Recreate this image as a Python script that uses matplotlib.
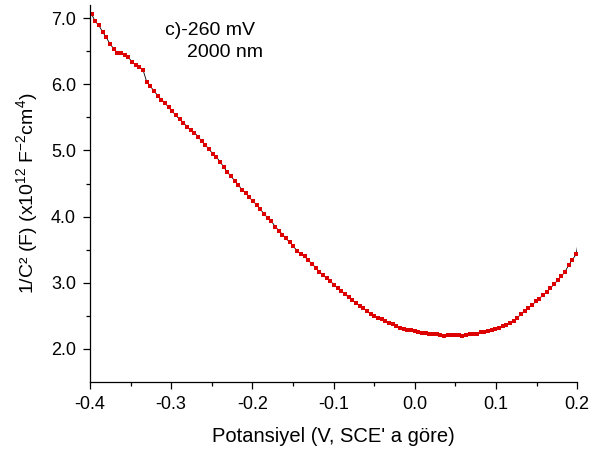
import numpy as np
import matplotlib
matplotlib.use('Agg')
import matplotlib.pyplot as plt

plt.rcParams['font.family'] = ['Liberation Sans', 'DejaVu Sans']
plt.rcParams['mathtext.fontset'] = 'custom'
plt.rcParams['mathtext.rm'] = 'Liberation Sans'
plt.rcParams['mathtext.it'] = 'Liberation Sans'

# 1/C^2 values (x10^12 F^-2 cm^4)
inv_c2 = [
    7.06, 6.95, 6.89, 6.79, 6.71, 6.61, 6.54, 6.48, 6.47, 6.44,
    6.41, 6.34, 6.29, 6.26, 6.22, 6.04, 5.97, 5.90, 5.83, 5.77,
    5.72, 5.65, 5.59, 5.53, 5.47, 5.42, 5.36, 5.31, 5.27, 5.21,
    5.14, 5.08, 5.02, 4.95, 4.90, 4.83, 4.75, 4.67, 4.61, 4.54,
    4.48, 4.40, 4.36, 4.29, 4.23, 4.18, 4.11, 4.04, 3.98, 3.93,
    3.85, 3.79, 3.73, 3.67, 3.61, 3.55, 3.48, 3.44, 3.40, 3.34,
    3.29, 3.23, 3.17, 3.12, 3.07, 3.03, 2.97, 2.92, 2.88, 2.83,
    2.78, 2.74, 2.70, 2.65, 2.62, 2.57, 2.53, 2.50, 2.47, 2.45,
    2.42, 2.39, 2.37, 2.35, 2.32, 2.30, 2.29, 2.28, 2.27, 2.25,
    2.24, 2.24, 2.23, 2.23, 2.22, 2.21, 2.20, 2.21, 2.21, 2.21,
    2.21, 2.20, 2.21, 2.22, 2.22, 2.23, 2.25, 2.26, 2.27, 2.29,
    2.30, 2.31, 2.34, 2.36, 2.40, 2.43, 2.47, 2.53, 2.58, 2.62,
    2.66, 2.72, 2.76, 2.82, 2.86, 2.92, 2.98, 3.04, 3.10, 3.17,
    3.27, 3.35, 3.43, 3.75,
]
# potential sweep (V vs SCE), uniform steps
potential = np.linspace(-0.398, 0.2032, len(inv_c2))

x_ticks = [-0.4, -0.3, -0.2, -0.1, 0.0, 0.1, 0.2]
y_ticks = [2.0, 3.0, 4.0, 5.0, 6.0, 7.0]

fig = plt.figure(figsize=(5.92, 4.5), dpi=100)
ax = fig.add_axes([0.152, 0.151, 0.823, 0.838])

ax.plot(potential, inv_c2, color='black', lw=0.6, marker='s', ms=2.5,
        mfc='#dd0000', mec='#dd0000', mew=0)

ax.set_xlim(-0.4, 0.2)
ax.set_ylim(1.5, 7.2)
ax.set_xticks(x_ticks)
ax.set_xticklabels(['%.1f' % v for v in x_ticks])
ax.set_yticks(y_ticks)
ax.set_yticklabels(['%.1f' % v for v in y_ticks])
ax.set_xticks(np.arange(-0.35, 0.2, 0.1), minor=True)
ax.set_yticks([2.5, 3.5, 4.5, 5.5, 6.5], minor=True)

ax.spines['top'].set_visible(False)
ax.spines['right'].set_visible(False)
for s in ['left', 'bottom']:
    ax.spines[s].set_linewidth(0.9)
ax.tick_params(which='major', direction='out', length=5, width=0.9,
               labelsize=13, pad=5)
ax.tick_params(which='minor', direction='out', length=3, width=0.9)

ax.set_xlabel("Potansiyel (V, SCE' a göre)", fontsize=14.5, labelpad=10)
ax.set_ylabel('1/C² (F) (x10$^{12}$ F$^{-2}$cm$^{4}$)', fontsize=14,
              labelpad=8)

ax.text(-0.3076, 6.81, 'c)-260 mV', fontsize=14, va='center', ha='left')
ax.text(-0.2805, 6.48, '2000 nm', fontsize=14, va='center', ha='left')

fig.savefig('out.png', dpi=100)
